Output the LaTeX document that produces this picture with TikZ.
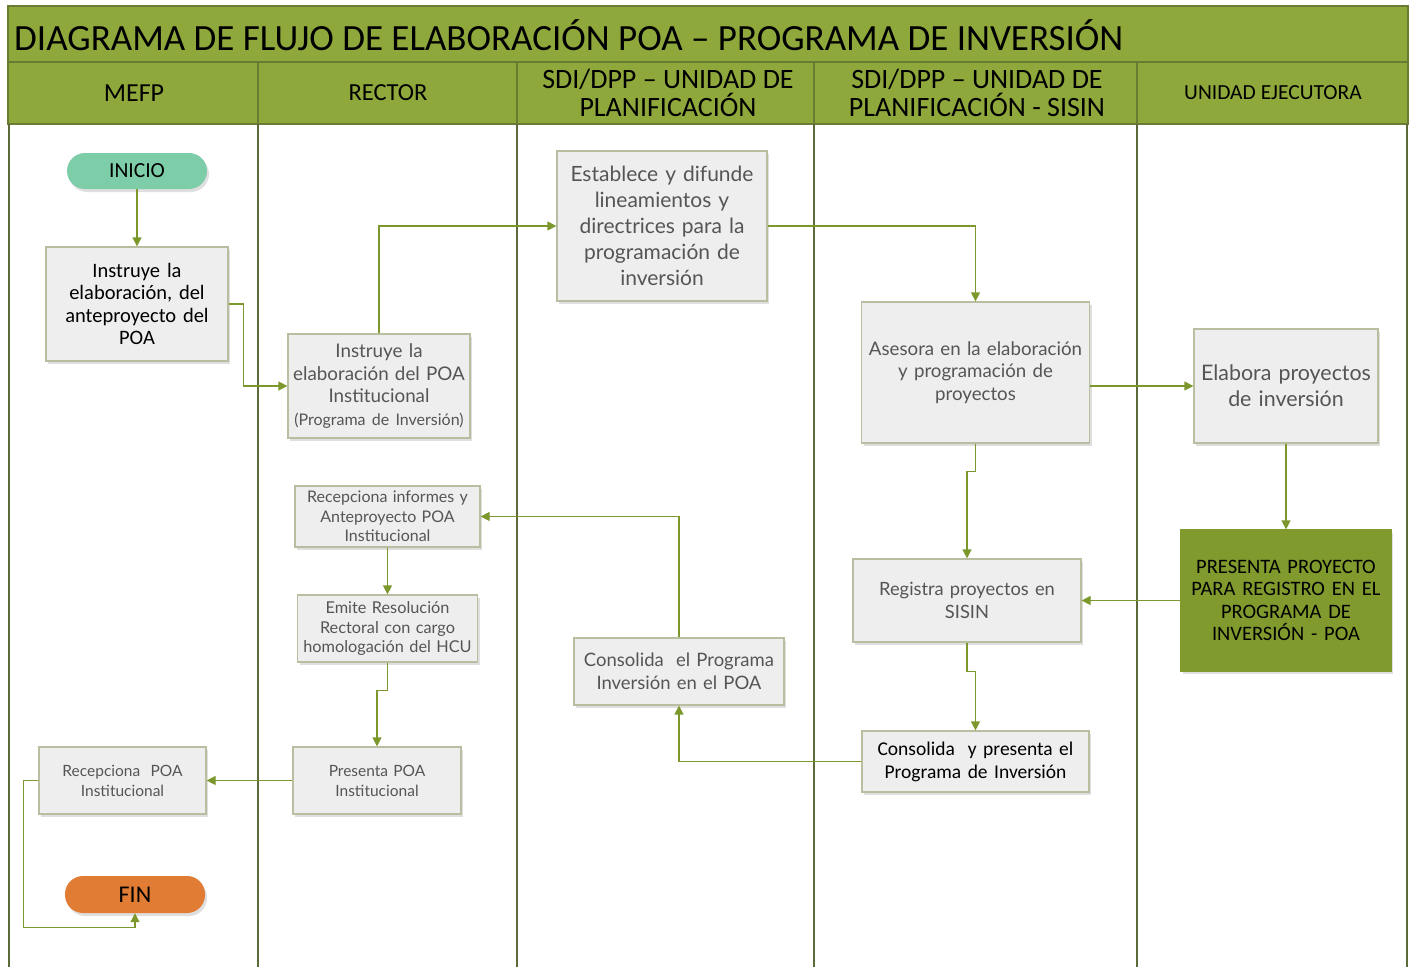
\documentclass[tikz,border=0pt]{standalone}
\usepackage{fontspec}
\setmainfont{Carlito}
\newfontfamily\gfont{Lato}
\usetikzlibrary{arrows.meta,shadows,calc}
\definecolor{hdr}{RGB}{143,168,60}
\definecolor{hdrline}{RGB}{104,124,52}
\definecolor{lane}{RGB}{92,106,58}
\definecolor{conn}{RGB}{124,152,44}
\definecolor{boxfill}{RGB}{238,238,238}
\definecolor{boxline}{RGB}{186,190,160}
\definecolor{graytxt}{RGB}{85,85,85}
\definecolor{mint}{RGB}{124,205,168}
\definecolor{orng}{RGB}{225,124,52}
\definecolor{olivebox}{RGB}{128,154,46}
\begin{document}
\begin{tikzpicture}[x=1pt,y=-1pt,
  hcell/.style={draw=hdrline,line width=2pt,fill=hdr},
  box/.style={draw=boxline,line width=1.2pt,fill=boxfill,align=center,inner sep=2pt,
    drop shadow={shadow xshift=2pt,shadow yshift=-3pt,opacity=0.25}},
  gbox/.style={box,text=graytxt,font=\gfont},
  kbox/.style={box,text=black},
  pill/.style={rounded corners=18pt,align=center,text=black,
    drop shadow={shadow xshift=2pt,shadow yshift=-3pt,opacity=0.25}},
  flow/.style={draw=conn,line width=1.2pt,-{Triangle[length=9pt,width=9pt]}},
  lanel/.style={draw=lane,line width=2.6pt}]
\useasboundingbox (0,0) rectangle (1416,967);
% title
\draw[hcell] (8,6) rectangle (1408,62);
\node[anchor=west,inner sep=0pt,font=\fontsize{37}{40}\selectfont] (title) at (14,35)
  {DIAGRAMA DE FLUJO DE ELABORACIÓN POA – PROGRAMA DE INVERSIÓN};
% header cells
\draw[hcell] (8,62) rectangle (258,124);
\draw[hcell] (258,62) rectangle (517,124);
\draw[hcell] (517,62) rectangle (814,124);
\draw[hcell] (814,62) rectangle (1137,124);
\draw[hcell] (1137,62) rectangle (1408,124);
\node[font=\fontsize{26}{28}\selectfont] (h1) at (134,93) {MEFP};
\node[font=\fontsize{24.5}{28}\selectfont] (h2) at (388,93) {RECTOR};
\node[font=\fontsize{28}{28}\selectfont,align=center] (h3) at (668,93) {SDI/DPP – UNIDAD DE\\PLANIFICACIÓN};
\node[font=\fontsize{28}{28}\selectfont,align=center] (h4) at (977,93) {SDI/DPP – UNIDAD DE\\PLANIFICACIÓN - SISIN};
\node[font=\fontsize{21.5}{24}\selectfont] (h5) at (1273,93) {UNIDAD EJECUTORA};
% lanes
\foreach \xx in {9,258,517,814,1137,1407} \draw[lanel] (\xx,124) -- (\xx,967);
% nodes
\node[pill,fill=mint,minimum width=140pt,minimum height=36pt,font=\fontsize{21.5}{24}\selectfont] (inicio) at (137,171) {INICIO};
\node[kbox,minimum width=182pt,minimum height=114pt,text width=176pt,font=\fontsize{20.5}{22.5}\selectfont] (b2) at (137,304)
  {Instruye la\\elaboración, del\\anteproyecto del\\POA};
\node[gbox,minimum width=182pt,minimum height=104pt,text width=178pt,font=\gfont\fontsize{18.8}{22.5}\selectfont] (b3) at (379,386)
  {Instruye la\\elaboración del POA\\Institucional\\{\fontsize{16}{20}\selectfont(Programa de Inversión)}};
\node[gbox,minimum width=210pt,minimum height=150pt,text width=204pt,font=\gfont\fontsize{21}{26}\selectfont] (b4) at (662,226)
  {Establece y difunde\\lineamientos y\\directrices para la\\programación de\\inversión};
\node[gbox,minimum width=227pt,minimum height=141pt,text width=224pt,font=\gfont\fontsize{18.7}{22.5}\selectfont] (ases) at (975.5,372.5)
  {Asesora en la elaboración\\y programación de\\proyectos};
\node[gbox,minimum width=182pt,minimum height=114pt,text width=180pt,font=\gfont\fontsize{21.4}{26}\selectfont] (elab) at (1286,386)
  {Elabora proyectos\\de inversión};
\node[box,fill=olivebox,draw=olivebox,text=black,minimum width=210pt,minimum height=141pt,text width=206pt,font=\fontsize{20.5}{22.5}\selectfont] (pres) at (1286,600.5)
  {PRESENTA PROYECTO\\PARA REGISTRO EN EL\\PROGRAMA DE\\INVERSIÓN - POA};
\node[gbox,minimum width=228pt,minimum height=83pt,text width=222pt,font=\gfont\fontsize{18.3}{22.5}\selectfont] (regi) at (967,600.5)
  {Registra proyectos en\\SISIN};
\node[kbox,minimum width=227pt,minimum height=61pt,text width=222pt,font=\fontsize{19.5}{23}\selectfont] (cpres) at (975.5,761.5)
  {Consolida\ \ y presenta el\\Programa de Inversión};
\node[gbox,minimum width=210pt,minimum height=67pt,text width=206pt,font=\gfont\fontsize{18.5}{23}\selectfont] (cprog) at (679,671.5)
  {Consolida\ \ el Programa\\Inversión en el POA};
\node[gbox,minimum width=183pt,minimum height=61pt,text width=181pt,font=\gfont\fontsize{16}{19.5}\selectfont] (rinf) at (387.5,516.5)
  {Recepciona informes y\\Anteproyecto POA\\Institucional};
\node[gbox,minimum width=177pt,minimum height=67pt,text width=176pt,font=\gfont\fontsize{16.3}{19.5}\selectfont] (emite) at (387.5,628.5)
  {Emite Resolución\\Rectoral con cargo\\homologación del HCU};
\node[gbox,minimum width=168pt,minimum height=67pt,text width=164pt,font=\gfont\fontsize{15.5}{20}\selectfont] (ppoa) at (377,780.5)
  {Presenta POA\\Institucional};
\node[gbox,minimum width=167pt,minimum height=67pt,text width=163pt,font=\gfont\fontsize{15.5}{20}\selectfont] (rpoa) at (122.5,780.5)
  {Recepciona\ \ POA\\Institucional};
\node[pill,fill=orng,minimum width=140pt,minimum height=37pt,font=\fontsize{24}{26}\selectfont] (fin) at (135,894.5) {FIN};
% connectors
\draw[flow] (inicio) -- (b2);
\draw[flow] (b2.east) -- ++(15,0) |- (b3.west);
\draw[flow] (b3.north) |- (b4.west);
\draw[flow] (b4.east) -| (ases.north);
\draw[flow] (ases.east |- elab.west) -- (elab.west);
\draw[flow] (elab.south) -- (pres.north);
\draw[flow] (pres.west) -- (regi.east);
\draw[flow] (ases.south) -- ++(0,28) -| (regi.north);
\draw[flow] (regi.south) -- ++(0,29) -| (cpres.north);
\draw[flow] (cpres.west) -| (cprog.south);
\draw[flow] (cprog.north) |- (rinf.east);
\draw[flow] (rinf.south) -- (emite.north);
\draw[flow] (emite.south) -- ++(0,28) -| (ppoa.north);
\draw[flow] (ppoa.west) -- (rpoa.east);
\draw[flow] (rpoa.west) -- ++(-15,0) -- ++(0,147) -| (fin.south);
\end{tikzpicture}
\end{document}
